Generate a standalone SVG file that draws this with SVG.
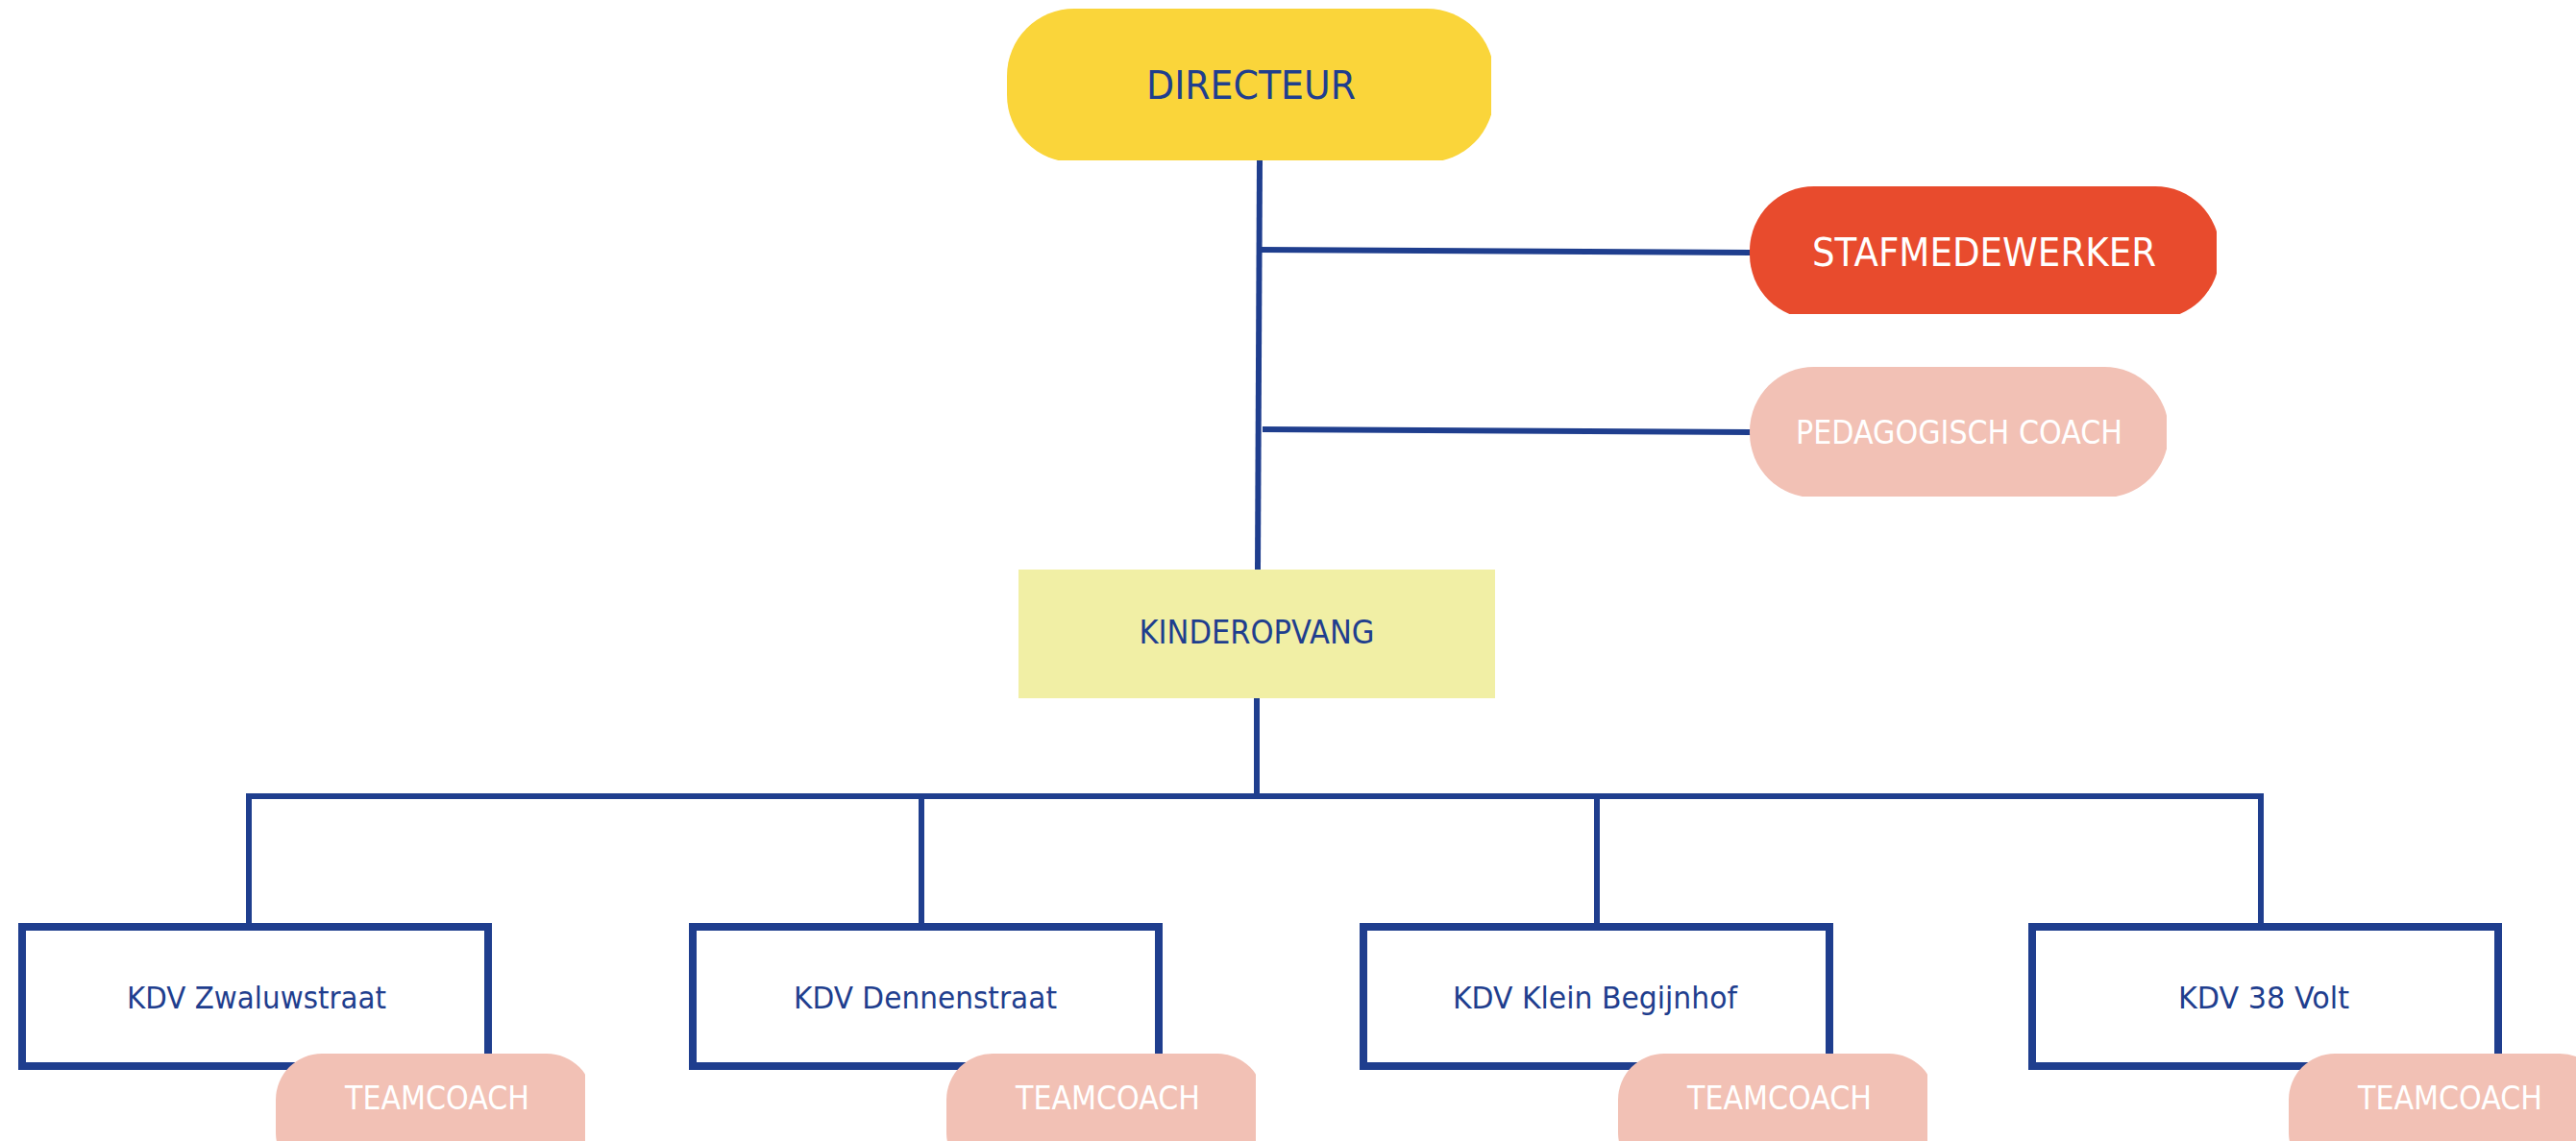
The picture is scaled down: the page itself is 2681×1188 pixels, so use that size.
<svg xmlns="http://www.w3.org/2000/svg" width="2681" height="1188" viewBox="0 0 2681 1188">
<style>
.t{font-family:"DejaVu Sans","Liberation Sans",sans-serif;text-anchor:middle}
.blue{fill:#1F3E8E}
.white{fill:#FFFFFF}
.conn{stroke:#1F3E8E;stroke-width:6;fill:none}
.box{fill:#FFFFFF;stroke:#1F3E8E;stroke-width:8}
.pink{fill:#F2C1B5}
</style>
<defs>
<clipPath id="cDir"><rect x="1040" y="0" width="512" height="167"/></clipPath>
<clipPath id="cStaf"><rect x="1815" y="190" width="492" height="137"/></clipPath>
<clipPath id="cPed"><rect x="1815" y="378" width="440" height="139"/></clipPath>
<clipPath id="cTc1"><rect x="280" y="1090" width="329" height="98"/></clipPath>
<clipPath id="cTc2"><rect x="978" y="1090" width="329" height="98"/></clipPath>
<clipPath id="cTc3"><rect x="1677" y="1090" width="329" height="98"/></clipPath>
<clipPath id="cTc4"><rect x="2375" y="1090" width="306" height="98"/></clipPath>
</defs>
<rect width="2681" height="1188" fill="#FFFFFF"/>
<g id="connectors">
<line class="conn" x1="1311" y1="166" x2="1309" y2="594"/>
<line class="conn" x1="1311" y1="260" x2="1822" y2="263"/>
<line class="conn" x1="1314" y1="447" x2="1822" y2="450"/>
<line class="conn" x1="1308" y1="726" x2="1308" y2="829"/>
<polyline class="conn" points="259,962 259,829 2353,829 2353,962"/>
<line class="conn" x1="959" y1="829" x2="959" y2="962"/>
<line class="conn" x1="1662" y1="829" x2="1662" y2="962"/>
</g>
<g id="directeur">
<rect x="1048" y="9" width="507" height="160" rx="70" fill="#FAD53A" clip-path="url(#cDir)"/>
<text class="t blue" x="1302" y="103" font-size="41" textLength="218" lengthAdjust="spacingAndGlyphs">DIRECTEUR</text>
</g>
<g id="stafmedewerker">
<rect x="1821" y="194" width="489" height="138" rx="67" fill="#E84B2D" clip-path="url(#cStaf)"/>
<text class="t white" x="2065" y="277" font-size="41" textLength="358" lengthAdjust="spacingAndGlyphs">STAFMEDEWERKER</text>
</g>
<g id="pedagogisch-coach">
<rect x="1821" y="382" width="436" height="136" rx="67" class="pink" clip-path="url(#cPed)"/>
<text class="t white" x="2039" y="462" font-size="34" textLength="340" lengthAdjust="spacingAndGlyphs">PEDAGOGISCH COACH</text>
</g>
<g id="kinderopvang">
<rect x="1060" y="593" width="496" height="134" fill="#F1EFA5"/>
<text class="t blue" x="1308" y="670" font-size="34" textLength="245" lengthAdjust="spacingAndGlyphs">KINDEROPVANG</text>
</g>
<g id="kdv-zwaluwstraat">
<rect class="box" x="23" y="965" width="485" height="145"/>
<text class="t blue" x="267" y="1050" font-size="32" textLength="270" lengthAdjust="spacingAndGlyphs">KDV Zwaluwstraat</text>
</g>
<g id="kdv-dennenstraat">
<rect class="box" x="721" y="965" width="485" height="145"/>
<text class="t blue" x="963" y="1050" font-size="32" textLength="274" lengthAdjust="spacingAndGlyphs">KDV Dennenstraat</text>
</g>
<g id="kdv-klein-begijnhof">
<rect class="box" x="1419" y="965" width="485" height="145"/>
<text class="t blue" x="1660" y="1050" font-size="32" textLength="296" lengthAdjust="spacingAndGlyphs">KDV Klein Begijnhof</text>
</g>
<g id="kdv-38-volt">
<rect class="box" x="2115" y="965" width="485" height="145"/>
<text class="t blue" x="2356" y="1050" font-size="32" textLength="178" lengthAdjust="spacingAndGlyphs">KDV 38 Volt</text>
</g>
<g id="teamcoach-1">
<rect x="287" y="1097" width="330" height="130" rx="48" class="pink" clip-path="url(#cTc1)"/>
<text class="t white" x="455" y="1155" font-size="33" textLength="192" lengthAdjust="spacingAndGlyphs">TEAMCOACH</text>
</g>
<g id="teamcoach-2">
<rect x="985" y="1097" width="330" height="130" rx="48" class="pink" clip-path="url(#cTc2)"/>
<text class="t white" x="1153" y="1155" font-size="33" textLength="192" lengthAdjust="spacingAndGlyphs">TEAMCOACH</text>
</g>
<g id="teamcoach-3">
<rect x="1684" y="1097" width="330" height="130" rx="48" class="pink" clip-path="url(#cTc3)"/>
<text class="t white" x="1852" y="1155" font-size="33" textLength="192" lengthAdjust="spacingAndGlyphs">TEAMCOACH</text>
</g>
<g id="teamcoach-4">
<rect x="2382" y="1097" width="330" height="130" rx="48" class="pink" clip-path="url(#cTc4)"/>
<text class="t white" x="2550" y="1155" font-size="33" textLength="192" lengthAdjust="spacingAndGlyphs">TEAMCOACH</text>
</g>
</svg>
